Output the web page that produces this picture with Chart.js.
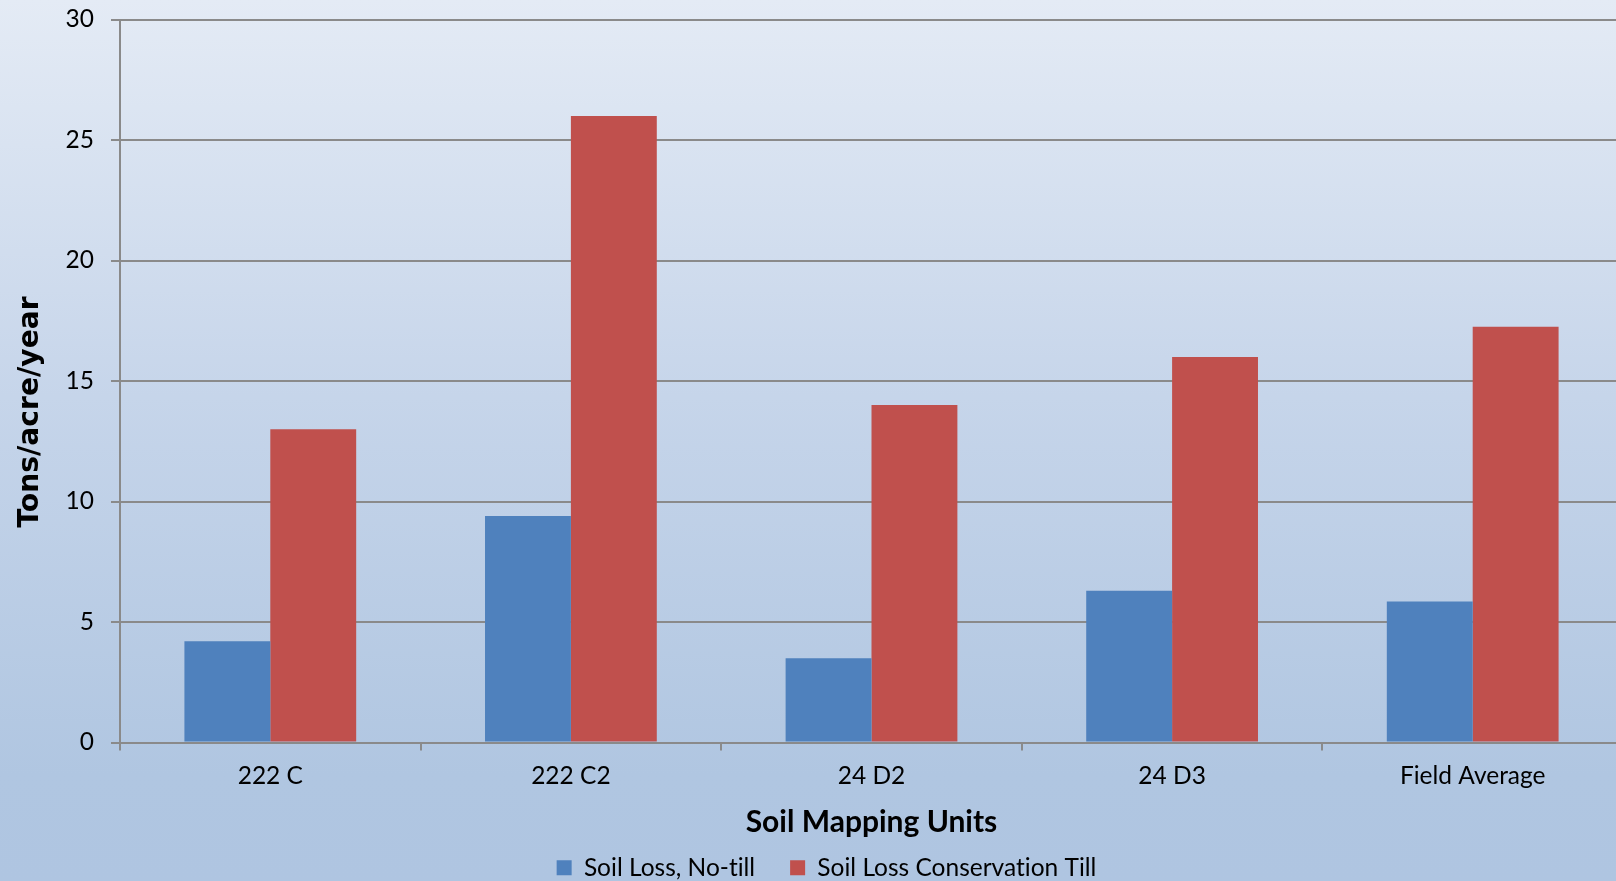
<!DOCTYPE html>
<html>
<head>
<meta charset="utf-8">
<title>Soil Loss by Soil Mapping Unit</title>
<script src="https://cdn.jsdelivr.net/npm/chart.js@4.4.1/dist/chart.umd.min.js"></script>
<style>
  html, body {
    margin: 0;
    padding: 0;
    width: 1616px;
    height: 881px;
    overflow: hidden;
  }
  body {
    background: linear-gradient(to bottom, #e4ebf5 0%, #c6d5ea 45%, #b0c6e1 88%, #afc5e1 100%);
  }
  #wrap {
    position: absolute;
    left: 0;
    top: 0;
    width: 1623px;
    height: 890px;
  }
</style>
</head>
<body>
<div id="wrap"><canvas id="soilloss"></canvas></div>
<script>
// soil mapping units on the x axis
const categories = ["222 C", "222 C2", "24 D2", "24 D3", "Field Average"];

// tons/acre/year for each unit
const noTill = [4.2, 9.4, 3.5, 6.3, 5.85];
const conservationTill = [13, 26, 14, 16, 17.25];

const seriesNames = ["Soil Loss, No-till", "Soil Loss Conservation Till"];
const yTicks = [0, 5, 10, 15, 20, 25, 30];

const gridGray = "#8a8a8a";
const fontFamily = "Lato, 'Open Sans', sans-serif";

// plain glyphs, no "ti" ligatures
const plainText = {
  id: "plainText",
  beforeUpdate(chart) {
    chart.ctx.textRendering = "optimizeSpeed";
  },
  beforeDraw(chart) {
    chart.ctx.textRendering = "optimizeSpeed";
  },
};

// legend sits a bit right of the canvas middle
const legendShift = {
  id: "legendShift",
  afterLayout(chart) {
    chart.legend.left += 15;
    chart.legend.right += 15;
  },
};

// y title is drawn a little below the middle of the axis
const yTitleDrop = 31;
const yTitleShift = {
  id: "yTitleShift",
  afterLayout(chart) {
    const y = chart.scales.y;
    if (y._titleShifted) return;
    const drawTitle = y.drawTitle;
    y.drawTitle = function () {
      this.top += yTitleDrop;
      this.bottom += yTitleDrop;
      drawTitle.call(this);
      this.top -= yTitleDrop;
      this.bottom -= yTitleDrop;
    };
    y._titleShifted = true;
  },
};

const ctxSoil = document.getElementById("soilloss").getContext("2d");

const soilChart = new Chart(ctxSoil, {
  type: "bar",
  data: {
    labels: categories,
    datasets: [
      {
        label: seriesNames[0],
        data: noTill,
        backgroundColor: "#4f81bd",
        borderWidth: 0,
      },
      {
        label: seriesNames[1],
        data: conservationTill,
        backgroundColor: "#c0504d",
        borderWidth: 0,
      },
    ],
  },
  options: {
    responsive: true,
    maintainAspectRatio: false,
    animation: false,
    datasets: {
      bar: {
        categoryPercentage: 2 / 3.5,
        barPercentage: 1,
      },
    },
    layout: {
      padding: { left: 0, right: 0, top: 19.5, bottom: 0 },
    },
    plugins: {
      tooltip: { enabled: false },
      legend: {
        position: "bottom",
        labels: {
          boxWidth: 15,
          boxHeight: 15,
          padding: 35,
          color: "#000",
          font: { family: fontFamily, size: 24.5 },
        },
      },
    },
    scales: {
      x: {
        grid: {
          display: true,
          drawOnChartArea: false,
          drawTicks: true,
          tickLength: 8,
          color: gridGray,
          lineWidth: 2,
        },
        border: { display: true, color: gridGray, width: 2 },
        ticks: {
          color: "#000",
          padding: 11,
          font: { family: fontFamily, size: 24.5 },
        },
        title: {
          display: true,
          text: "Soil Mapping Units",
          color: "#000",
          font: { family: fontFamily, size: 30, weight: "bold" },
          padding: { top: 0, bottom: -19.5 },
        },
        afterFit(scale) {
          scale.height = 78;
          scale.paddingLeft = 0;
          scale.paddingRight = 0;
        },
      },
      y: {
        min: 0,
        max: 30,
        afterBuildTicks(scale) {
          scale.ticks = yTicks.map((v) => ({ value: v }));
        },
        grid: {
          color: gridGray,
          lineWidth: 2,
          tickLength: 9,
        },
        border: { display: true, color: gridGray, width: 2 },
        ticks: {
          color: "#000",
          padding: 17,
          font: { family: fontFamily, size: 24.5 },
        },
        title: {
          display: true,
          text: "Tons/acre/year",
          color: "#000",
          font: { family: "'DejaVu Sans', sans-serif", size: 28.2, weight: "bold" },
          padding: { top: 13.5, bottom: 0 },
        },
        afterFit(scale) {
          scale.width = 120;
          scale.paddingTop = 0;
          scale.paddingBottom = 0;
        },
      },
    },
  },
  plugins: [plainText, legendShift, yTitleShift],
});
</script>
</body>
</html>
